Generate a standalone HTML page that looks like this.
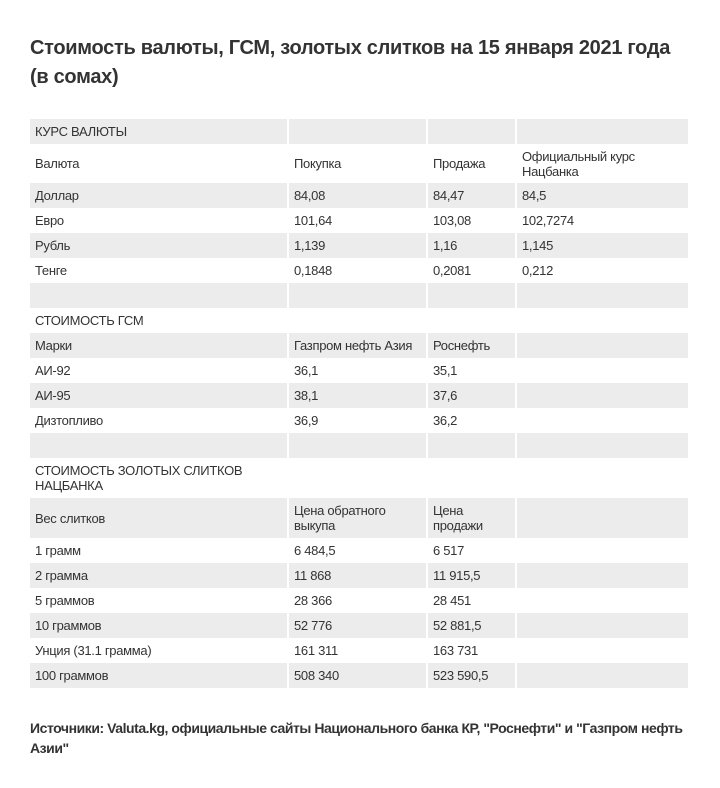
<!DOCTYPE html>
<html><head><meta charset="utf-8"><style>
body{margin:0;background:#fff;width:720px;height:788px;position:relative;font-family:"Liberation Sans",sans-serif;color:#333;overflow:hidden}
h1{position:absolute;left:30px;top:34px;margin:0;font-size:20px;line-height:29px;font-weight:bold;color:#333;width:655px;letter-spacing:-0.3px}
table{position:absolute;left:30px;top:119px;border-collapse:collapse;width:658px;table-layout:fixed}
td{padding:0 5px;font-size:13px;height:25px;line-height:15px;vertical-align:middle;border-left:2px solid #fff;box-sizing:border-box;letter-spacing:-0.3px}
td:first-child{border-left:none}
tr.g td{background:#ececec}
tr.t td{height:39px}
tr.t2 td{height:40px}
.src{position:absolute;left:30px;top:718px;width:670px;font-size:14px;font-weight:bold;line-height:20px;color:#333;letter-spacing:-0.45px}
</style></head><body>
<h1>Стоимость валюты, ГСМ, золотых слитков на 15 января 2021 года (в сомах)</h1>
<table>
<colgroup><col style="width:258px"><col style="width:139px"><col style="width:89px"><col style="width:172px"></colgroup>
<tr class="g"><td>КУРС ВАЛЮТЫ</td><td></td><td></td><td></td></tr>
<tr class="t"><td>Валюта</td><td>Покупка</td><td>Продажа</td><td>Официальный курс Нацбанка</td></tr>
<tr class="g"><td>Доллар</td><td>84,08</td><td>84,47</td><td>84,5</td></tr>
<tr><td>Евро</td><td>101,64</td><td>103,08</td><td>102,7274</td></tr>
<tr class="g"><td>Рубль</td><td>1,139</td><td>1,16</td><td>1,145</td></tr>
<tr><td>Тенге</td><td>0,1848</td><td>0,2081</td><td>0,212</td></tr>
<tr class="g"><td></td><td></td><td></td><td></td></tr>
<tr><td>СТОИМОСТЬ ГСМ</td><td></td><td></td><td></td></tr>
<tr class="g"><td>Марки</td><td>Газпром нефть Азия</td><td>Роснефть</td><td></td></tr>
<tr><td>АИ-92</td><td>36,1</td><td>35,1</td><td></td></tr>
<tr class="g"><td>АИ-95</td><td>38,1</td><td>37,6</td><td></td></tr>
<tr><td>Дизтопливо</td><td>36,9</td><td>36,2</td><td></td></tr>
<tr class="g"><td></td><td></td><td></td><td></td></tr>
<tr class="t2"><td>СТОИМОСТЬ ЗОЛОТЫХ СЛИТКОВ НАЦБАНКА</td><td></td><td></td><td></td></tr>
<tr class="g t2"><td>Вес слитков</td><td>Цена обратного выкупа</td><td>Цена продажи</td><td></td></tr>
<tr><td>1 грамм</td><td>6 484,5</td><td>6 517</td><td></td></tr>
<tr class="g"><td>2 грамма</td><td>11 868</td><td>11 915,5</td><td></td></tr>
<tr><td>5 граммов</td><td>28 366</td><td>28 451</td><td></td></tr>
<tr class="g"><td>10 граммов</td><td>52 776</td><td>52 881,5</td><td></td></tr>
<tr><td>Унция (31.1 грамма)</td><td>161 311</td><td>163 731</td><td></td></tr>
<tr class="g"><td>100 граммов</td><td>508 340</td><td>523 590,5</td><td></td></tr>
</table>
<div class="src">Источники: Valuta.kg, официальные сайты Национального банка КР, "Роснефти" и "Газпром нефть Азии"</div>
</body></html>
